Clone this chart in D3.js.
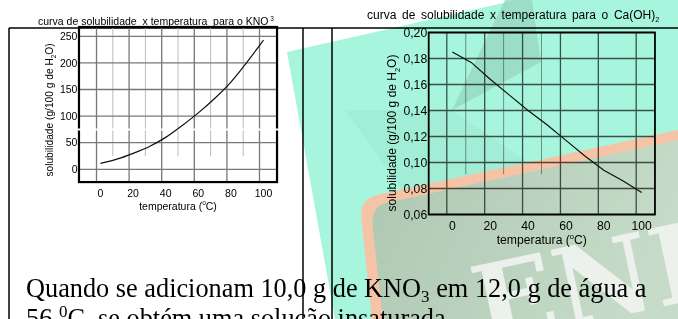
<!DOCTYPE html>
<html><head><meta charset="utf-8">
<script src="https://cdn.jsdelivr.net/npm/d3@7"></script>
<style>body{margin:0;background:#fff}svg{display:block}text{white-space:pre}</style>
</head><body>
<svg id="c" width="678" height="319"></svg>
<script>
// ---- data ----
const temps = [0,10,20,30,40,50,60,70,80,90,100];
const kno3 = [11,19,30,43,60,82,106,133,164,202,243];
const caoh2 = [0.185,0.177,0.164,0.152,0.140,0.129,0.117,0.105,0.094,0.086,0.077];
const xTicks = [0,20,40,60,80,100];
const xMinorLeft = [10,30,50,70,90];
const xMinorRight = [10,30,50];
const yTicksLeft = [0,50,100,150,200,250];
const yTicksRight = [0.06,0.08,0.10,0.12,0.14,0.16,0.18,0.20];
const titleLeft = "curva de solubilidade  x temperatura  para o KNO";
const titleRight = "curva de solubilidade x temperatura para o Ca(OH)";
const yTitle = "solubilidade (g/100 g de H";
const xTitle = "temperatura (";

const svg = d3.select("#c");
const SANS = "'Liberation Sans', Arial, sans-serif";
const SERIF = "'Liberation Serif', 'Times New Roman', serif";

// table lines
const tbl = svg.append("g").attr("stroke","#000").attr("stroke-width",1.5);
tbl.append("line").attr("x1",9).attr("x2",678).attr("y1",28).attr("y2",28);
tbl.append("line").attr("x1",9).attr("x2",9).attr("y1",28).attr("y2",319);
tbl.append("line").attr("x1",303).attr("x2",303).attr("y1",28).attr("y2",319);
tbl.append("line").attr("x1",332).attr("x2",332).attr("y1",28).attr("y2",319);

function chart(o){
  const g = svg.append("g");
  const x = d3.scaleLinear().domain([0,100]).range(o.xr);
  const y = d3.scaleLinear().domain(o.yd).range(o.yr);
  const [fx0,fx1] = o.fxd, [fy0,fy1] = o.fyd;
  // minor vertical grid
  g.append("g").selectAll("line").data(o.minor).join("line")
    .attr("x1",d=>x(d)+o.gOff).attr("x2",d=>x(d)+o.gOff)
    .attr("y1",y(fy1)).attr("y2",y(o.minorEnd))
    .attr("stroke",o.minorCol).attr("stroke-width",1);
  // major vertical grid
  g.append("g").selectAll("line").data(xTicks).join("line")
    .attr("x1",d=>x(d)+o.gOff).attr("x2",d=>x(d)+o.gOff)
    .attr("y1",y(fy0)).attr("y2",y(fy1))
    .attr("stroke",o.gridCol).attr("stroke-width",1.3);
  // horizontal grid
  g.append("g").selectAll("line").data(o.yt).join("line")
    .attr("x1",x(fx0)).attr("x2",x(fx1))
    .attr("y1",d=>y(d)).attr("y2",d=>y(d))
    .attr("stroke",o.gridCol).attr("stroke-width",1.3);
  if(o.whiteGap){
    g.append("rect").attr("x",x(fx0)-3).attr("width",x(fx1)-x(fx0)+6)
      .attr("y",o.whiteGap).attr("height",2).attr("fill","#fff");
  }
  // curve
  g.append("path").datum(temps.map((t,i)=>[t,o.vals[i]]))
    .attr("d",d3.line().x(d=>x(d[0])).y(d=>y(d[1])).curve(o.curve))
    .attr("fill","none").attr("stroke","#111").attr("stroke-width",1.2);
  // frame
  g.append("rect").attr("x",x(fx0)).attr("y",y(fy1))
    .attr("width",x(fx1)-x(fx0)).attr("height",y(fy0)-y(fy1))
    .attr("fill","none").attr("stroke","#000").attr("stroke-width",o.frameW);
  if(o.whiteGap){
    g.append("rect").attr("x",x(fx0)-2).attr("width",4)
      .attr("y",o.whiteGap).attr("height",2).attr("fill","#fff");
    g.append("rect").attr("x",x(fx1)-2).attr("width",4)
      .attr("y",o.whiteGap).attr("height",2).attr("fill","#fff");
  }
  // y labels
  g.append("g").selectAll("text").data(o.yt).join("text")
    .attr("x",x(fx0)-1.5).attr("y",d=>y(d)).attr("dy","0.35em")
    .attr("text-anchor","end").attr("font-family",SANS).attr("font-size",o.fs)
    .text(o.fmt);
  // x labels
  g.append("g").selectAll("text").data(xTicks).join("text")
    .attr("x",d=>x(d)).attr("y",o.xlY)
    .attr("text-anchor","middle").attr("font-family",SANS).attr("font-size",o.fs)
    .text(d=>d);
  // x title
  const xt = g.append("text").attr("x",(x(fx0)+x(fx1))/2 + o.xtDx).attr("y",o.xtY)
    .attr("text-anchor","middle").attr("font-family",SANS).attr("font-size",o.fs);
  xt.append("tspan").text(xTitle);
  xt.append("tspan").attr("font-size",o.fs*0.62).attr("dy",-o.fs*0.45).text("o");
  xt.append("tspan").attr("dy",o.fs*0.45).text("C)");
  // y title
  const yt = g.append("text").attr("transform",`translate(${o.ytX},${o.ytY}) rotate(-90)`)
    .attr("text-anchor","middle").attr("font-family",SANS).attr("font-size",o.yfs);
  yt.append("tspan").text(yTitle);
  yt.append("tspan").attr("font-size",o.yfs*0.62).attr("dy",o.yfs*0.3).text("2");
  yt.append("tspan").attr("dy",-o.yfs*0.3).text("O)");
  // title
  const tt = g.append("text").attr("x",o.tX).attr("y",o.tY)
    .attr("font-family",SANS).attr("font-size",o.tfs).attr("word-spacing",o.ws);
  tt.append("tspan").text(o.title);
  tt.append("tspan").attr("font-size",o.tfs*0.62).attr("dy",o.subDy).text(o.sub);
}

chart({xr:[100.5,263.5], yd:[0,250], yr:[169.3,36.3], fxd:[-13.2,108.3], fyd:[-24,267.5],
  gOff:-4, minor:xMinorLeft, minorEnd:24.5, minorCol:"#bdbdbd", gridCol:"#777",
  vals:kno3, curve:d3.curveMonotoneX, frameW:2.2, yt:yTicksLeft, fmt:d=>d, fs:10.5,
  xlY:196.5, xtY:209.5, xtDx:0, ytX:53, ytY:110, yfs:10.2,
  tX:38, tY:25, tfs:10.5, ws:0, title:titleLeft, sub:" 3", subDy:-4, whiteGap:128.5});

chart({xr:[452.3,641.7], yd:[0.06,0.20], yr:[214.5,32.5], fxd:[-12.46,107], fyd:[0.06,0.20],
  gOff:-5.5, minor:xMinorRight, minorEnd:0.091, minorCol:"#9a9a9a", gridCol:"#555",
  vals:caoh2, curve:d3.curveLinear, frameW:1.8, yt:yTicksRight,
  fmt:d=>d3.format(".2f")(d).replace(".",","), fs:12.2,
  xlY:230, xtY:244.3, xtDx:0, ytX:396, ytY:133, yfs:12,
  tX:367, tY:19.3, tfs:12, ws:2.3, title:titleRight, sub:"2", subDy:3, whiteGap:null});

// bottom text
const t1 = svg.append("text").attr("x",26).attr("y",296.7)
  .attr("font-family",SERIF).attr("font-size",26.3).attr("fill","#000");
t1.append("tspan").text("Quando se adicionam 10,0 g de KNO");
t1.append("tspan").attr("font-size",17).attr("dy",5).text("3");
t1.append("tspan").attr("dy",-5).text(" em 12,0 g de água a");
const t2 = svg.append("text").attr("x",26).attr("y",327)
  .attr("font-family",SERIF).attr("font-size",26.3).attr("fill","#000");
t2.append("tspan").text("56 ");
t2.append("tspan").attr("font-size",17).attr("dy",-10).text("0");
t2.append("tspan").attr("dy",10).text("C, se obtém uma solução insaturada.");

// ---- watermark (multiplied over the page) ----
const defs = svg.append("defs");
const grad = defs.append("linearGradient").attr("id","board").attr("x1","0").attr("x2","1").attr("y1","0").attr("y2","0.3");
grad.append("stop").attr("offset","0").attr("stop-color","#adc7b1");
grad.append("stop").attr("offset","1").attr("stop-color","#c6dcc8");

const wm = svg.append("g").style("mix-blend-mode","multiply");
wm.append("path").attr("d","M287,52 L517,0 L678,0 L678,319 L335,319 Z").attr("fill","#a7f5dd");
wm.append("path").attr("d","M505,0 L532,0 L541,62 L452,110 Z").attr("fill","#97d8c2").attr("opacity",0.8);
wm.append("path").attr("d","M345,110 L452,110 L560,185 L420,215 Z").attr("fill","#9fe8d1").attr("opacity",0.6);
const op = d3.path();
op.moveTo(373.1,330); op.lineTo(361.4,219); op.quadraticCurveTo(359.2,198.8,379,194.5);
op.lineTo(690,127.4); op.lineTo(690,330); op.closePath();
wm.append("path").attr("d",op.toString()).attr("fill","#f5c4a6");
const ip = d3.path();
ip.moveTo(384.1,330); ip.lineTo(372.6,226); ip.quadraticCurveTo(371,206.3,387,202.8);
ip.lineTo(690,137.4); ip.lineTo(690,330); ip.closePath();
wm.append("path").attr("d",ip.toString()).attr("fill","url(#board)");
wm.append("text").attr("x",482).attr("y",345).attr("transform","rotate(-12,482,345)")
  .attr("font-family","'DejaVu Serif', serif").attr("font-weight","bold").attr("font-size",108)
  .attr("fill","#f2f5f2").attr("opacity",0.88).text("ENEM");
</script>
</body></html>
